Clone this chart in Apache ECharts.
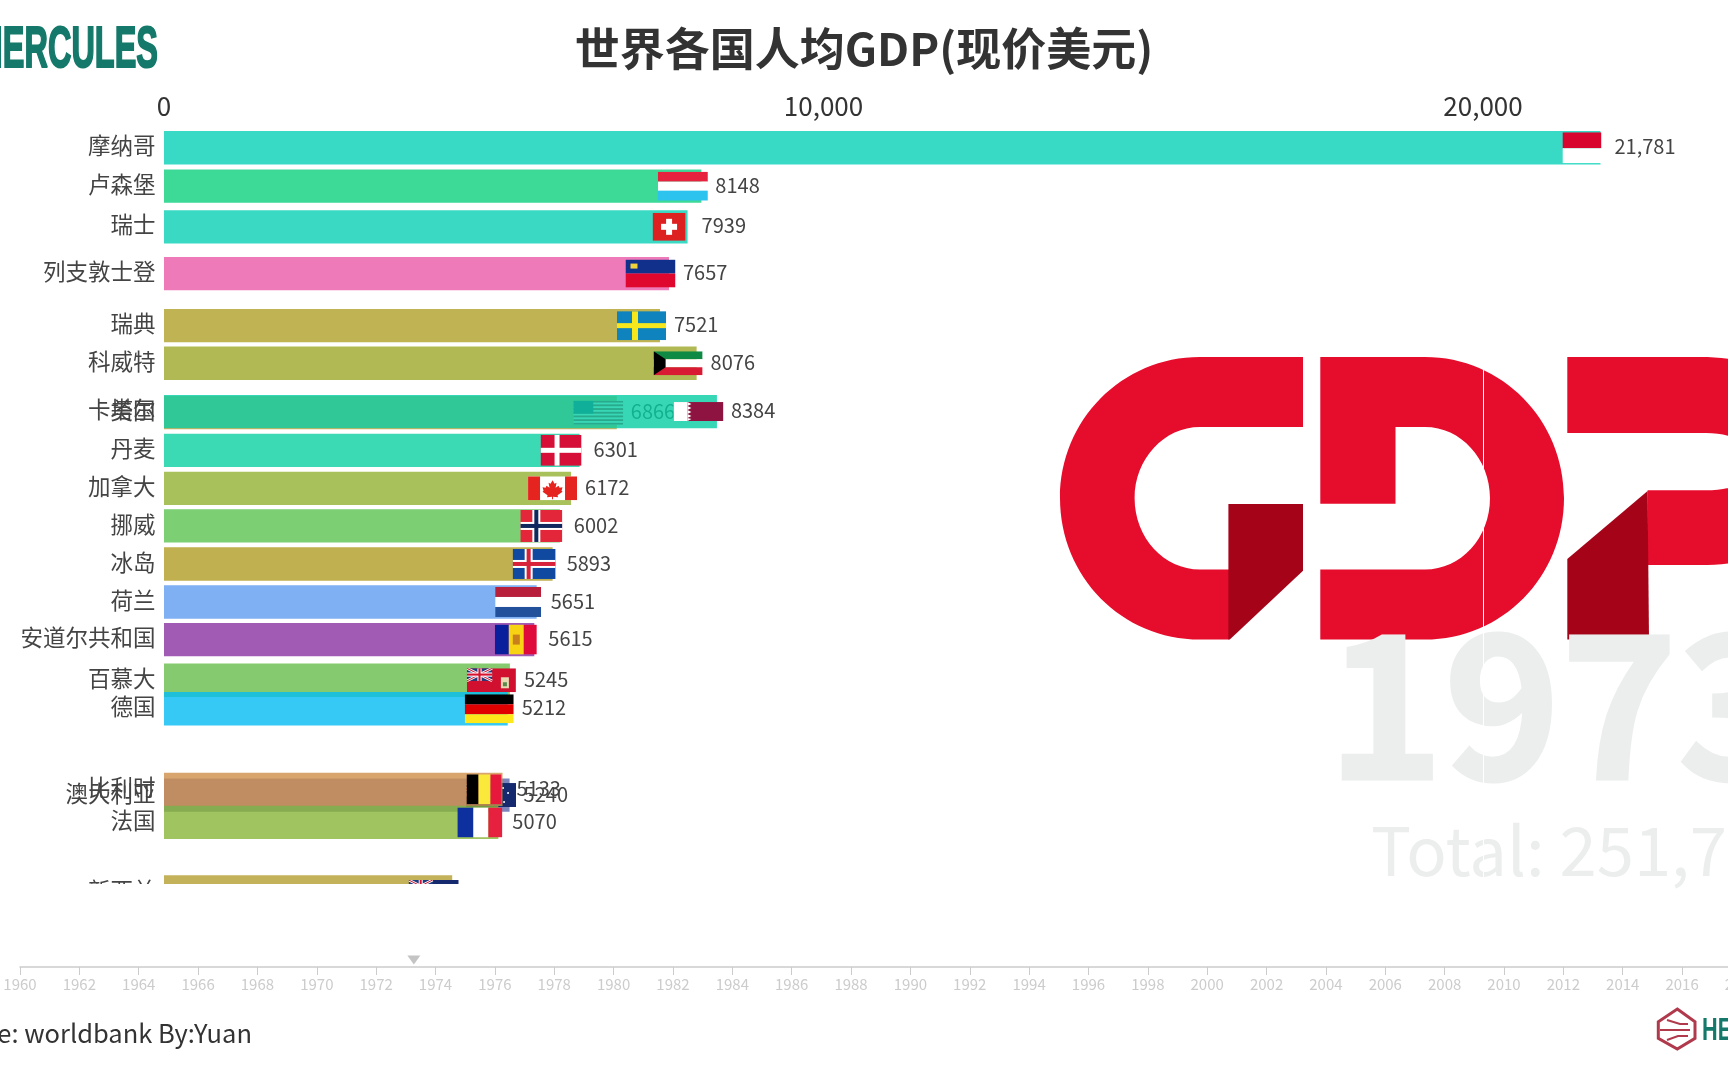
<!DOCTYPE html>
<html>
<head>
<meta charset="utf-8">
<title>世界各国人均GDP</title>
<style>
  html, body { margin: 0; padding: 0; background: #fff; overflow: hidden; }
  #main { width: 1728px; height: 1080px; }
</style>
<script src="https://cdn.jsdelivr.net/npm/echarts@6/dist/echarts.min.js"></script>
</head>
<body>
<div id="main"></div>
<script>
// drawn back to front, the frame is caught mid animation so some rows overlap
const countries = ["摩纳哥", "卢森堡", "瑞士", "列支敦士登", "瑞典", "科威特", "美国", "卡塔尔", "丹麦", "加拿大", "挪威", "冰岛", "荷兰", "安道尔共和国", "百慕大", "德国", "澳大利亚", "比利时", "法国", "新西兰"];
const gdpValues = [21781, 8148, 7939, 7657, 7521, 8076, 6866, 8384, 6301, 6172, 6002, 5893, 5651, 5615, 5245, 5212, 5240, 5133, 5070, 4370];
// row position of each bar in the animated frame, 1 = one rank
const rowPositions = [0.52, 1.53, 2.60, 3.83, 5.20, 6.19, 7.49, 7.46, 8.48, 9.48, 10.47, 11.47, 12.47, 13.46, 14.53, 15.28, 17.55, 17.40, 18.27, 20.10];
const barColors = ["#06d1b8", "#0dd07d", "#09d0b5", "#ea59a8", "#b0a028", "#9ca828", "#cda037", "#05cda4", "#0ad1a3", "#92b231", "#5bc34f", "#b29c24", "#5f9cf0", "#8b32a1", "#67bd4a", "#04bcf3", "#5b68ac", "#d08f4a", "#88b537", "#b59f31"];
const currentYear = 1973.27;
const yearLabel = "1973";
const totalLabel = "Total: 251,7";

const cjk = '"Noto Sans CJK SC", "Noto Sans", sans-serif';

function svg(w, h, inner) {
  return "data:image/svg+xml;charset=utf-8," + encodeURIComponent(
    '<svg xmlns="http://www.w3.org/2000/svg" width="' + w * 4 + '" height="' + h * 4 + '" viewBox="0 0 ' + w + " " + h + '" preserveAspectRatio="none">' + inner + "</svg>");
}
function r(x, y, w, h, c) {
  return '<rect x="' + x + '" y="' + y + '" width="' + w + '" height="' + h + '" fill="' + c + '"/>';
}
const ukJack =
  r(0, 0, 24, 12, "#1f3a7d") +
  '<path d="M0 0L24 12M24 0L0 12" stroke="#fff" stroke-width="2.6"/><path d="M0 0L24 12M24 0L0 12" stroke="#d5122f" stroke-width="1"/>' +
  r(10, 0, 4, 12, "#fff") + r(0, 4, 24, 4, "#fff") + r(11, 0, 2, 12, "#d5122f") + r(0, 5, 24, 2, "#d5122f");
function usStripes() {
  let s = r(0, 0, 50, 24, "#fff");
  for (let i = 0; i < 7; i++) s += r(0, i * 3.7, 50, 1.85, "#b22234");
  s += r(0, 0, 20, 13, "#3c3b6e");
  return s;
}
// [width, height, image] per country, sizes measured in the reference
const flags = {
  "摩纳哥": [39, 31, svg(39, 31, r(0, 0, 39, 16, "#d8062f") + r(0, 16, 39, 15, "#fff"))],
  "卢森堡": [50, 29, svg(50, 29, r(0, 0, 50, 10, "#e6223f") + r(0, 10, 50, 10, "#fff") + r(0, 19, 50, 10, "#2cc4ee"))],
  "瑞士": [33, 28, svg(33, 28, r(0, 0, 33, 28, "#dd2020") + r(13.5, 6, 6, 16, "#fff") + r(8.5, 11, 16, 6, "#fff"))],
  "列支敦士登": [50, 28, svg(50, 28, r(0, 0, 50, 14, "#11308c") + r(0, 14, 50, 14, "#e0072f") + r(5, 4, 7, 5, "#f2d23a"))],
  "瑞典": [49, 29, svg(49, 29, r(0, 0, 49, 29, "#0f83bd") + r(15, 0, 6, 29, "#f6e81c") + r(0, 12, 49, 5, "#f6e81c"))],
  "科威特": [49, 24, svg(49, 24, r(0, 0, 49, 8, "#0f8a45") + r(0, 8, 49, 8, "#fff") + r(0, 16, 49, 8, "#d81a33") + '<path d="M0 0L12 8V16L0 24Z" fill="#000"/>')],
  "美国": [50, 24, svg(50, 24, usStripes())],
  "卡塔尔": [50, 19, svg(50, 19, r(0, 0, 50, 19, "#8f1341") + r(0, 0, 14, 19, "#fff") + '<path d="M14 0l4 2-4 2 4 2-4 2 4 2-4 2 4 2-4 2 4 1-4 2z" fill="#fff"/>')],
  "丹麦": [41, 31, svg(41, 31, r(0, 0, 41, 31, "#d50f38") + r(14, 0, 5, 31, "#fff") + r(0, 13, 41, 5, "#fff"))],
  "加拿大": [49, 24, svg(49, 24, r(0, 0, 49, 24, "#fff") + r(0, 0, 12, 24, "#e5231f") + r(37, 0, 12, 24, "#e5231f") + '<path d="M24.5 4l2 3.5 2-1-1 5 3-2 1 2 3-.5-1 3.5 1 1-5 3.5.5 2-5-.5V23h-1v-2.5l-5 .5.5-2-5-3.500 1-1-1-3.500 3 .5 1-2 3 2-1-5 2 1z" fill="#e5231f"/>')],
  "挪威": [42, 32, svg(42, 32, r(0, 0, 42, 32, "#e3263a") + r(12, 0, 8, 32, "#fff") + r(0, 12, 42, 8, "#fff") + r(14, 0, 4, 32, "#10285e") + r(0, 14, 42, 4, "#10285e"))],
  "冰岛": [43, 30, svg(43, 30, r(0, 0, 43, 30, "#0f4aa0") + r(12, 0, 8, 30, "#fff") + r(0, 11, 43, 8, "#fff") + r(14, 0, 4, 30, "#d8213a") + r(0, 13, 43, 4, "#d8213a"))],
  "荷兰": [46, 30, svg(46, 30, r(0, 0, 46, 10, "#b81f3a") + r(0, 10, 46, 10, "#fff") + r(0, 20, 46, 10, "#23509a"))],
  "安道尔共和国": [42, 30, svg(42, 30, r(0, 0, 14, 30, "#0a1f9c") + r(14, 0, 15, 30, "#f8d314") + r(29, 0, 13, 30, "#df0a3b") + r(18, 10, 7, 10, "#c9801c"))],
  "百慕大": [49, 24, svg(49, 24, r(0, 0, 49, 24, "#d1102f") + '<g transform="scale(1.05)">' + ukJack + "</g>" + r(34, 9, 8, 11, "#e8d9b0") + r(36, 14, 4, 4, "#5a8a4a"))],
  "德国": [49, 29, svg(49, 29, r(0, 0, 49, 10, "#000") + r(0, 10, 49, 10, "#e00000") + r(0, 20, 49, 9, "#ffe81a"))],
  "澳大利亚": [50, 24, svg(50, 24, r(0, 0, 50, 24, "#14296e") + ukJack + '<g fill="#fff"><circle cx="37" cy="5" r="1"/><circle cx="42" cy="10" r="1"/><circle cx="33" cy="11" r="1"/><circle cx="38" cy="19" r="1"/></g>')],
  "比利时": [35, 30, svg(35, 30, r(0, 0, 12, 30, "#000") + r(12, 0, 12, 30, "#fae83a") + r(24, 0, 11, 30, "#e6183c"))],
  "法国": [45, 30, svg(45, 30, r(0, 0, 16, 30, "#0e2f9e") + r(16, 0, 15, 30, "#fff") + r(31, 0, 14, 30, "#e6213f"))],
  "新西兰": [50, 24, svg(50, 24, r(0, 0, 50, 24, "#14296e") + ukJack + '<g fill="#d5122f"><circle cx="38" cy="5" r="1"/><circle cx="43" cy="10" r="1"/><circle cx="35" cy="12" r="1"/></g>')],
};

const labelFmt = (v) => (v >= 10000 ? v.toLocaleString("en-US") : String(v));

function renderBar(params, api) {
  const i = params.dataIndex;
  const val = api.value(0);
  const pos = api.value(1);
  const start = api.coord([0, pos]);
  const end = api.coord([val, pos]);
  const h = api.size([0, 0.877])[1];
  const f = flags[countries[i]];
  const cs = params.coordSys;
  return {
    type: "group",
    // rows below the plot are cut off, the axis names too
    clipPath: { type: "rect", shape: { x: 0, y: cs.y, width: 1728, height: cs.height } },
    children: [
      { type: "rect", shape: { x: start[0], y: start[1] - h / 2, width: end[0] - start[0], height: h }, style: { fill: barColors[i], opacity: 0.8 } },
      { type: "image", style: { image: f[2], x: end[0] - 18.5 - f[0] / 2, y: end[1] - f[1] / 2, width: f[0], height: f[1] } },
      { type: "text", style: { text: labelFmt(gdpValues[i]), x: end[0] + 14, y: end[1] - 1, align: "left", verticalAlign: "middle", font: "20px " + cjk, fill: "#444" } },
      { type: "text", style: { text: countries[i], x: start[0] - 8.5, y: start[1] - 2, align: "right", verticalAlign: "middle", font: "22.500px " + cjk, fill: "#444" } },
    ],
  };
}

const red = "#e60c2c";
const darkRed = "#a50318";
const green = "#14796a";
const narrow = '"Liberation Sans Narrow", "Liberation Sans", sans-serif';

// the big GDP picture, the year and the total sit under the grid lines
function renderBackdrop() {
  return {
    type: "group",
    children: [
      { type: "path", shape: { pathData: "M1303 357L1200 357C1122 357 1060 420 1060 498C1060 577 1122 639.600 1200 639.600L1229 639.600L1229 569.500L1200 569.500C1164 569.500 1134.600 538 1134.600 498C1134.600 459 1164 427 1200 427L1303 427Z" }, style: { fill: red } },
      { type: "polygon", shape: { points: [[1228.4, 504], [1303, 504], [1303, 570.7], [1229.8, 639.6], [1228.4, 639.6]] }, style: { fill: darkRed } },
      { type: "path", shape: { pathData: "M1320.300 357L1425 357C1502 357 1564 420 1564 498C1564 577 1502 639.600 1425 639.600L1320.300 639.600L1320.300 569.500L1425 569.500C1461 569.500 1490 538 1490 498C1490 459 1461 427 1425 427L1395.500 427L1395.500 503.700L1320.300 503.700Z" }, style: { fill: red } },
      { type: "path", shape: { pathData: "M1567.300 357L1700 357C1790 357 1830 410 1830 461C1830 520 1790 565 1700 565L1647.600 565L1647.600 490.300L1706 490.300C1735 490.300 1755 480 1755 461C1755 445 1735 433 1706 433L1567.300 433Z" }, style: { fill: red } },
      { type: "polygon", shape: { points: [[1567.3, 559], [1647.6, 491], [1649, 639.6], [1567.3, 639.6]] }, style: { fill: darkRed } },
      { type: "text", style: { text: yearLabel, x: 1327, y: 704, align: "left", verticalAlign: "middle", font: "bold 198px " + cjk, fill: "#eceeed", stroke: "#eceeed", lineWidth: 3 } },
      { type: "text", style: { text: totalLabel, x: 1371, y: 851, align: "left", verticalAlign: "middle", font: "67px " + cjk, fill: "#eceeed" } },
    ],
  };
}

const graphicEls = [
  // top left logo text, runs off the edge
  { type: "text", x: 158, y: 51, scaleX: 0.56, style: { text: "HERCULES", x: 0, y: 0, align: "right", verticalAlign: "middle", font: "bold 58px " + narrow, fill: green, stroke: green, lineWidth: 2 } },
  { type: "text", style: { text: "世界各国人均GDP(现价美元)", x: 864, y: 49, align: "center", verticalAlign: "middle", font: "bold 45px " + cjk, fill: "#333" } },
  { type: "text", style: { text: "Source: worldbank By:Yuan", x: 252, y: 1033, align: "right", verticalAlign: "middle", font: "25.500px " + cjk, fill: "#333" } },
  // bottom right logo
  { type: "polygon", shape: { points: [[1677.3, 1009], [1695, 1021.7], [1695, 1038.3], [1677.3, 1049], [1658.3, 1038.3], [1658.3, 1021.7]] }, style: { fill: "none", stroke: "#b03a4c", lineWidth: 3 } },
  { type: "polyline", shape: { points: [[1667, 1020], [1680, 1024], [1688, 1024]] }, style: { fill: "none", stroke: "#b03a4c", lineWidth: 2 } },
  { type: "polyline", shape: { points: [[1660, 1030], [1690, 1030]] }, style: { fill: "none", stroke: "#b03a4c", lineWidth: 2 } },
  { type: "polyline", shape: { points: [[1667, 1040], [1678, 1036], [1688, 1036]] }, style: { fill: "none", stroke: "#b03a4c", lineWidth: 2 } },
  { type: "text", x: 1702, y: 1031, scaleX: 0.7, style: { text: "HERCULES", x: 0, y: 0, align: "left", verticalAlign: "middle", font: "bold 31px " + narrow, fill: green } },
];

const chart = echarts.init(document.getElementById("main"), null, { renderer: "canvas" });
chart.setOption({
  animation: false,
  backgroundColor: "#fff",
  graphic: { elements: graphicEls },
  grid: [
    // both plots run past the window edge, as in the reference
    { left: 164, top: 128, width: 1978.5, height: 756, outerBoundsMode: "none" },
    { left: 20, top: 966, width: 1780.8, height: 1, outerBoundsMode: "none" },
  ],
  xAxis: [
    {
      gridIndex: 0, type: "value", position: "top", min: 0, max: 30000, interval: 10000,
      axisLine: { show: false }, axisTick: { show: false },
      splitLine: { show: true, lineStyle: { color: "#fff", width: 1 } },
      axisLabel: { showMaxLabel: false, color: "#333", fontSize: 26, fontFamily: cjk, margin: 9, formatter: (v) => v.toLocaleString("en-US") },
    },
    {
      gridIndex: 1, type: "value", position: "bottom", min: 1960, max: 2020, interval: 2,
      axisLine: { show: true, onZero: false, lineStyle: { color: "#ccc", width: 1.5 } },
      axisTick: { show: true, length: 8, lineStyle: { color: "#ccc" } },
      splitLine: { show: false },
      axisLabel: { showMaxLabel: false, color: "#ccc", fontSize: 15, fontFamily: cjk, margin: 10, formatter: (v) => String(v) },
    },
  ],
  yAxis: [
    { gridIndex: 0, type: "value", inverse: true, min: 0, max: 19.89, show: false },
    { gridIndex: 1, type: "value", min: 0, max: 1, show: false },
  ],
  series: [
    {
      type: "custom",
      coordinateSystem: "none",
      z: -1,
      silent: true,
      renderItem: renderBackdrop,
      data: [[0]],
    },
    {
      type: "custom",
      xAxisIndex: 0,
      yAxisIndex: 0,
      clip: false,
      z: 3,
      renderItem: renderBar,
      encode: { x: 0, y: 1 },
      data: gdpValues.map((v, i) => [v, rowPositions[i]]),
    },
    {
      type: "scatter",
      xAxisIndex: 1,
      yAxisIndex: 1,
      symbol: "triangle",
      symbolRotate: 180,
      symbolSize: [13, 9],
      symbolOffset: [0, -7],
      itemStyle: { color: "#c4c4c4", opacity: 1 },
      silent: true,
      data: [[currentYear, 0]],
    },
  ],
});
</script>
</body>
</html>
